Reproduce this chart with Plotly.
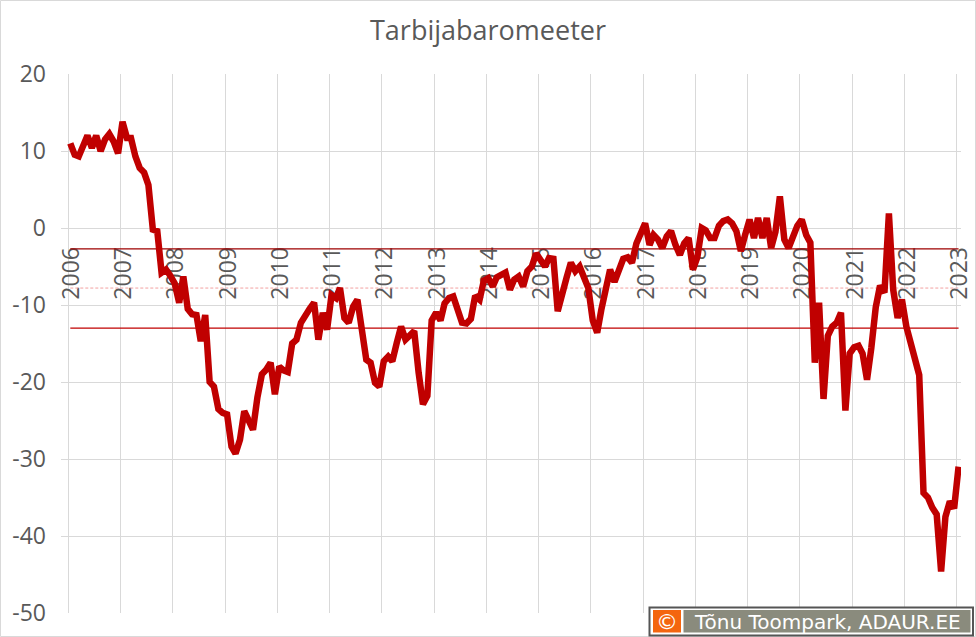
import pandas as pd
import plotly.graph_objects as go

# ---- data (monthly, Jan 2006 .. Jan 2023) ----
v2006 = [11.0, 9.5, 9.3, 10.8, 12.0, 10.4, 12.0, 10.0, 11.5, 12.2, 11.2, 9.7]
v2007 = [13.8, 11.7, 11.7, 9.3, 7.8, 7.2, 5.6, -0.2, -0.4, -5.8, -5.4, -6.2]
v2008 = [-7.2, -9.7, -6.3, -10.5, -11.2, -11.3, -14.7, -11.3, -20.0, -20.6, -23.5, -24.0]
v2009 = [-24.2, -28.4, -29.3, -27.5, -23.8, -25.0, -26.2, -22.0, -19.0, -18.4, -17.5, -21.6]
v2010 = [-18.0, -18.5, -18.7, -15.0, -14.5, -12.3, -11.3, -10.5, -9.7, -14.5, -11.0, -13.2]
v2011 = [-8.7, -9.1, -7.8, -11.7, -12.3, -10.2, -9.3, -12.8, -17.1, -17.5, -20.1, -20.6]
v2012 = [-17.3, -16.7, -17.3, -14.9, -12.8, -14.5, -14.0, -13.4, -18.8, -22.9, -21.8, -12.0]
v2013 = [-11.0, -12.0, -9.8, -9.1, -8.9, -10.8, -12.3, -12.4, -11.8, -8.8, -9.3, -6.8]
v2014 = [-6.5, -7.6, -6.4, -6.1, -5.8, -8.0, -6.7, -6.3, -7.6, -5.6, -5.0, -3.3]
v2015 = [-4.2, -5.0, -3.9, -4.0, -10.8, -8.2, -6.5, -4.5, -5.6, -5.0, -6.7, -7.8]
v2016 = [-12.0, -13.6, -10.6, -7.5, -5.4, -7.0, -5.3, -4.0, -3.8, -4.5, -2.0, -0.5]
v2017 = [0.6, -2.2, -0.9, -1.5, -2.6, -1.1, -0.4, -2.2, -3.5, -2.0, -1.3, -5.4]
v2018 = [-3.8, 0.0, -0.3, -1.3, -1.3, 0.3, 0.9, 1.1, 0.6, -0.4, -3.0, -0.9]
v2019 = [1.1, -1.3, 1.3, -1.3, 1.3, -2.6, -0.5, 4.1, -1.5, -2.6, -0.9, 0.3]
v2020 = [1.1, -0.9, -1.9, -17.5, -9.7, -22.2, -14.0, -12.8, -12.3, -11.0, -23.7, -16.3]
v2021 = [-15.5, -15.3, -16.3, -19.7, -15.6, -10.3, -7.5, -8.4, 1.9, -8.0, -11.7, -9.3]
v2022 = [-12.8, -14.9, -16.7, -19.1, -34.4, -35.0, -36.3, -37.2, -44.6, -37.5, -35.5, -36.4]
v2023 = [-31.0]

values = (v2006 + v2007 + v2008 + v2009 + v2010 + v2011 + v2012 + v2013 + v2014
          + v2015 + v2016 + v2017 + v2018 + v2019 + v2020 + v2021 + v2022 + v2023)

# reference levels: mean + sd, mean, mean - sd
ref_levels = [-2.7, -7.8, -13.0]
y_ticks = [20, 10, 0, -10, -20, -30, -40, -50]
y_tick_labels = ["20", "10", "0", "-10", "-20", "-30", "-40", "-50"]

title_text = "Tarbijabaromeeter"
credit_text = "Tõnu Toompark, ADAUR.EE"

# ---- figure ----
dates = pd.date_range(start="2006-01-01", periods=len(values), freq="MS") + pd.Timedelta(days=14)

W, H = 976, 637
L, R, T, B = 61, 15, 74, 24
PW, PH = W - L - R, H - T - B


def px_x(p):
    return (p - L) / PW


def px_y(p):
    return (H - B - p) / PH


fig = go.Figure()

ref_styles = [
    dict(color="#9E0000", width=1.3),
    dict(color="#F2A0A0", width=1, dash="3px,2px"),
    dict(color="#C00000", width=1.3),
]
for lvl, st in zip(ref_levels, ref_styles):
    fig.add_trace(go.Scatter(x=[dates[0], dates[-1]], y=[lvl, lvl], mode="lines",
                             line=st, hoverinfo="skip", showlegend=False))

fig.add_trace(go.Scatter(x=dates, y=values, mode="lines",
                         line=dict(color="#C00000", width=6.5),
                         showlegend=False, name="Tarbijabaromeeter"))

y_min, y_max = -50, 20
axis_cross = -1.75
tickfont = dict(family="Open Sans", size=23, color="#595959")

fig.update_layout(
    width=W, height=H,
    margin=dict(l=L, r=R, t=T, b=B, autoexpand=False),
    paper_bgcolor="white", plot_bgcolor="white",
    title=dict(text=title_text, x=0.5, xref="container", xanchor="center",
               y=1 - 31 / H, yref="container", yanchor="middle",
               font=dict(family="Open Sans", size=27, color="#595959")),
    xaxis=dict(type="date", range=["2005-11-11", "2023-02-01"],
               tick0="2006-01-01", dtick="M12", tickformat="%Y", tickangle=-90,
               showgrid=True, gridcolor="#D9D9D9", gridwidth=1,
               showline=False, zeroline=False, ticks="", automargin=False,
               anchor="free", position=(axis_cross - y_min) / (y_max - y_min),
               tickfont=tickfont, layer="below traces", ticklabelshift=3),
    yaxis=dict(range=[y_min, y_max], tickvals=y_ticks, ticktext=y_tick_labels,
               showgrid=True, gridcolor="#D9D9D9", gridwidth=1,
               zeroline=False, showline=False, ticks="", automargin=False,
               tickfont=tickfont, ticklabelstandoff=14),
)

# chart border
fig.add_shape(type="rect", xref="paper", yref="paper",
              x0=px_x(0.5), x1=px_x(W - 0.5), y0=px_y(H - 0.5), y1=px_y(0.5),
              line=dict(color="#D9D9D9", width=1), fillcolor="rgba(0,0,0,0)", layer="above")

# credit box
fig.add_shape(type="rect", xref="paper", yref="paper",
              x0=px_x(649.5), x1=px_x(973), y0=px_y(635.5), y1=px_y(607.5),
              line=dict(color="#555555", width=2), fillcolor="white", layer="above")
fig.add_shape(type="rect", xref="paper", yref="paper",
              x0=px_x(653), x1=px_x(681), y0=px_y(632.5), y1=px_y(610),
              line=dict(width=0), fillcolor="#F4650F", layer="above")
fig.add_shape(type="rect", xref="paper", yref="paper",
              x0=px_x(683.5), x1=px_x(970.5), y0=px_y(632.5), y1=px_y(610),
              line=dict(width=0), fillcolor="#8A8B7D", layer="above")
fig.add_annotation(text="©", xref="paper", yref="paper", x=px_x(667), y=px_y(621.5),
                   xanchor="center", yanchor="middle", showarrow=False,
                   font=dict(family="DejaVu Sans", size=22, color="white"))
fig.add_annotation(text=credit_text, xref="paper", yref="paper", x=px_x(827), y=px_y(621.5),
                   xanchor="center", yanchor="middle", showarrow=False,
                   font=dict(family="DejaVu Sans", size=20, color="white"))

fig.write_html("out.html", config={"displayModeBar": False},
               post_script="document.body.style.margin='0';document.body.style.overflow='hidden';")
